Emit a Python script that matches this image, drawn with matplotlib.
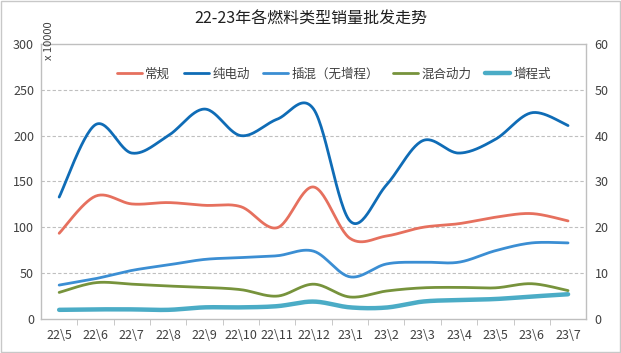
import numpy as np
import matplotlib
matplotlib.use("Agg")
import matplotlib.pyplot as plt
from matplotlib.patches import Rectangle

plt.rcParams['font.family'] = ['Noto Sans CJK SC', 'DejaVu Sans']

categories = ["22\\5", "22\\6", "22\\7", "22\\8", "22\\9", "22\\10", "22\\11", "22\\12",
              "23\\1", "23\\2", "23\\3", "23\\4", "23\\5", "23\\6", "23\\7"]
conventional = [93.5, 134, 125.5, 127, 124, 122.5, 99.6, 144, 88, 90.5, 100, 104, 111, 115, 107]
bev = [133, 212, 181, 200, 229, 200, 218, 229, 107, 146, 194.5, 181, 196, 225, 211]
phev = [37, 44, 53, 59, 65, 67, 69, 74, 46, 60, 62, 62, 74.5, 83, 83]
hev = [29, 39.6, 38, 36, 34.5, 32, 25, 38, 24, 30.5, 34, 34.5, 34, 38.5, 31]
erev = [10, 10.5, 10.5, 10, 12.7, 12.7, 14, 19, 12.7, 12.5, 19, 20.7, 21.8, 24.5, 27]

series_names = ["常规", "纯电动", "插混（无增程）", "混合动力", "增程式"]
colors = ["#E6705E", "#0F6CB6", "#3B8ED3", "#77933C", "#4BACC6"]
widths = [2.0, 2.0, 2.0, 2.0, 3.2]


def smooth(xs, ys, n=30):
    xs = np.asarray(xs, float)
    ys = np.asarray(ys, float)
    px, py = [xs[0]], [ys[0]]
    m = len(xs)
    for i in range(m - 1):
        x0, y0 = (xs[i - 1], ys[i - 1]) if i > 0 else (xs[i], ys[i])
        x1, y1 = xs[i], ys[i]
        x2, y2 = xs[i + 1], ys[i + 1]
        x3, y3 = (xs[i + 2], ys[i + 2]) if i + 2 < m else (xs[i + 1], ys[i + 1])
        c1x, c1y = x1 + (x2 - x0) / 6, y1 + (y2 - y0) / 6
        c2x, c2y = x2 - (x3 - x1) / 6, y2 - (y3 - y1) / 6
        t = np.linspace(0, 1, n)[1:]
        bx = (1 - t) ** 3 * x1 + 3 * (1 - t) ** 2 * t * c1x + 3 * (1 - t) * t ** 2 * c2x + t ** 3 * x2
        by = (1 - t) ** 3 * y1 + 3 * (1 - t) ** 2 * t * c1y + 3 * (1 - t) * t ** 2 * c2y + t ** 3 * y2
        px.extend(bx)
        py.extend(by)
    return np.array(px), np.array(py)


fig = plt.figure(figsize=(6.21, 3.53), dpi=100)
fig.patches.append(Rectangle((0.0015, 0.0025), 0.997, 0.995, transform=fig.transFigure,
                             fill=False, edgecolor="#C8C8C8", linewidth=1.0))
ax = fig.add_axes([0.066, 0.0963, 0.878, 0.7791])
x = np.arange(len(categories))
all_series = [conventional, bev, phev, hev, erev]
for vals, name, c, w in zip(all_series, series_names, colors, widths):
    sx, sy = smooth(x, vals)
    ax.plot(sx, sy, color=c, lw=w, label=name, solid_capstyle='round')

ax.set_xlim(-0.5, len(categories) - 0.5)
ax.set_ylim(0, 300)
ax.set_yticks(np.arange(0, 301, 50))
ax.set_xticks(x)
ax.set_xticklabels(categories)
ax.set_xticks(np.arange(0.5, len(categories) - 1, 1), minor=True)
ax.tick_params(axis='x', which='major', length=0, pad=7, labelsize=9, labelcolor="#404040")
ax.tick_params(axis='x', which='minor', length=4, color="#BFBFBF", direction='out')
ax.tick_params(axis='y', length=0, labelsize=9, labelcolor="#404040", pad=5)
for y in range(50, 300, 50):
    ax.axhline(y, color="#BFBFBF", lw=0.8, ls=(0, (3, 2)), zorder=0)
for s in ax.spines.values():
    s.set_color("#BFBFBF")
    s.set_linewidth(1.0)

ax2 = ax.twinx()
ax2.set_ylim(0, 60)
ax2.set_yticks(np.arange(0, 61, 10))
ax2.tick_params(axis='y', length=0, labelsize=9, labelcolor="#404040", pad=6)
for s in ax2.spines.values():
    s.set_visible(False)

ax.legend(loc='center', bbox_to_anchor=(0.537, 0.89), ncol=5, frameon=False,
          fontsize=9, handlelength=2.0, columnspacing=1.06, handletextpad=0.3,
          labelcolor="#404040", borderaxespad=0)

fig.text(0.5, 0.945, "22-23年各燃料类型销量批发走势", ha='center', va='center',
         fontsize=11.5, color="#202020")
fig.text(0.079, 0.885, "x 10000", rotation=90, ha='center', va='center',
         fontsize=8, color="#404040")

fig.savefig("out.png", dpi=100)
